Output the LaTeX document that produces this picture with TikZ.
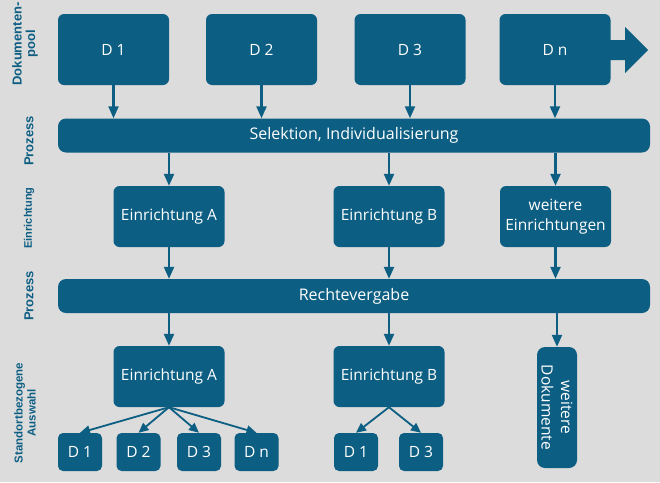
\documentclass[tikz,border=0pt]{standalone}
\usepackage{fontspec}
\setmainfont{Open Sans}
\newfontfamily\labelfont{Liberation Sans}
\usetikzlibrary{arrows.meta}
\definecolor{boxblue}{RGB}{13,94,131}
\definecolor{bggray}{RGB}{220,220,220}

\begin{document}
\begin{tikzpicture}[x=1pt, y=-1pt,
    box/.style={fill=boxblue, text=white, rounded corners=6pt, inner sep=0pt, align=center,
      font=\fontsize{15.5}{19.5}\selectfont},
    bar/.style={box, minimum width=592pt, minimum height=34pt, rounded corners=8pt,
      font=\fontsize{16}{19.5}\selectfont},
    doc/.style={box, minimum width=111pt, minimum height=71pt},
    site/.style={box, minimum width=111pt, minimum height=61pt},
    small/.style={box, minimum width=44pt, minimum height=38pt, rounded corners=5pt},
    rowlabel/.style={rotate=90, text=boxblue, align=center,
      font=\labelfont\bfseries\fontsize{13}{13.5}\selectfont},
    arr/.style={draw=boxblue, line width=2.2pt, -{Triangle[width=10pt,length=12pt,fill=boxblue]}},
    arrsmall/.style={arr, line width=1.8pt, -{Triangle[width=9pt,length=10pt,fill=boxblue]}}]
  \fill[bggray] (0,0) rectangle (660,482);
  \useasboundingbox (0,0) rectangle (660,482);

  % row labels
  \node[rowlabel] (lpool) at (25,44) {Dokumenten-\\pool};
  \node[rowlabel] (lproz1) at (29,141) {Prozess};
  \node[rowlabel, font=\labelfont\bfseries\fontsize{11}{12}\selectfont] (leinr) at (29,218) {Einrichtung};
  \node[rowlabel] (lproz2) at (29,296) {Prozess};
  \node[rowlabel, font=\labelfont\bfseries\fontsize{11.5}{13}\selectfont] (lwahl) at (25,413) {Standortbezogene\\Auswahl};

  % document pool
  \node[doc] (d1) at (113.5,49.5) {D 1};
  \node[doc] (d2) at (261.5,49.5) {D 2};
  \node[doc] (d3) at (410,49.5) {D 3};
  \node[doc] (dn) at (555,49.5) {D n};
  \fill[boxblue] (605,40) -- (625,40) -- (625,27) -- (648,50) -- (625,73) -- (625,60) -- (605,60) -- cycle;

  % processes
  \node[bar] (sel) at (354,135.5) {Selektion, Individualisierung};
  \node[bar] (recht) at (354,296) {Rechtevergabe};

  % institutions
  \node[site] (einA) at (169,216.5) {Einrichtung A};
  \node[site] (einB) at (389,216.5) {Einrichtung B};
  \node[site] (einW) at (555.5,216.5) {weitere\\Einrichtungen};

  % local selection
  \node[site] (ortA) at (169,376.5) {Einrichtung A};
  \node[site] (ortB) at (389,376.5) {Einrichtung B};
  \node[box, minimum width=40pt, minimum height=121pt, rounded corners=8pt] (weitDok) at (557,407.5) {};
  \node[rotate=-90, align=center, text=white, font=\fontsize{15.5}{19.5}\selectfont] (weitTxt) at (weitDok) {weitere\\Dokumente};
  \node[small] (a1) at (80,452) {D 1};
  \node[small] (a2) at (138.5,452) {D 2};
  \node[small] (a3) at (199,452) {D 3};
  \node[small] (an) at (256.5,452) {D n};
  \node[small] (b1) at (356,452) {D 1};
  \node[small] (b3) at (421,452) {D 3};

  % connectors
  \foreach \d in {d1,d2,d3,dn}
    \draw[arr] (\d.south) -- (\d.south |- sel.north);
  \foreach \e in {einA,einB,einW}
    \draw[arr] (\e.north |- sel.south) -- (\e.north);
  \foreach \e in {einA,einB,einW}
    \draw[arr] (\e.south) -- (\e.south |- recht.north);
  \draw[arr] (ortA.north |- recht.south) -- (ortA.north);
  \draw[arr] (ortB.north |- recht.south) -- (ortB.north);
  \draw[arr] (weitDok.north |- recht.south) -- (weitDok.north);
  \foreach \a in {a1,a2,a3,an}
    \draw[arrsmall] (ortA.south) -- (\a.north);
  \foreach \b in {b1,b3}
    \draw[arrsmall] (ortB.south) -- (\b.north);
\end{tikzpicture}
\end{document}
